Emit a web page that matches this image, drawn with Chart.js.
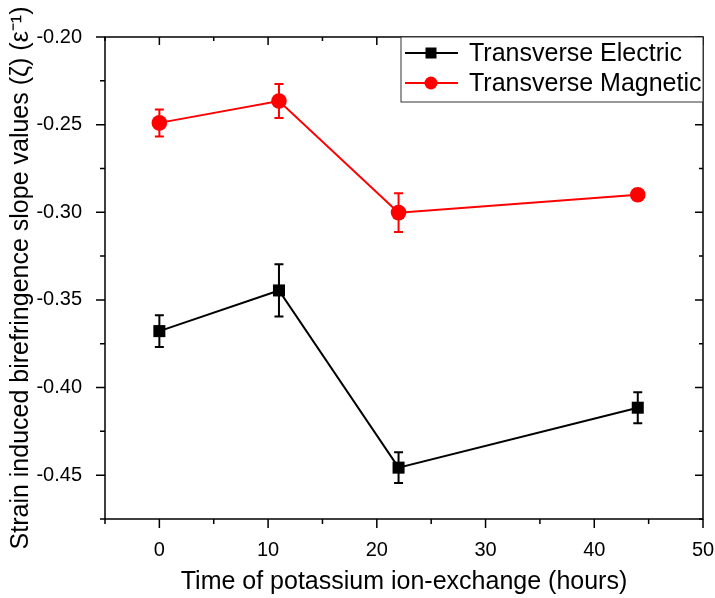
<!DOCTYPE html>
<html>
<head>
<meta charset="utf-8">
<script src="https://cdn.jsdelivr.net/npm/chart.js@4/dist/chart.umd.min.js"></script>
<style>
    body { margin: 0; background: #ffffff; }
    canvas { display: block; }
</style>
</head>
<body>
<canvas id="chart" width="715" height="598"></canvas>
<script>
// data
const hours = [0, 11, 22, 44];
const teValues = [-0.3678, -0.3446, -0.4457, -0.4115];
const teErrors = [0.009, 0.0149, 0.0088, 0.0088];
const tmValues = [-0.249, -0.2365, -0.3002, -0.290];
const tmErrors = [0.0077, 0.0097, 0.011, 0.003];

const xMajor = [0, 10, 20, 30, 40, 50];
const xMinor = [-5, 5, 15, 25, 35, 45];
const yMajor = [-0.45, -0.40, -0.35, -0.30, -0.25, -0.20];
const yMinor = [-0.475, -0.425, -0.375, -0.325, -0.275, -0.225];

const FONT = "'Liberation Sans', Arial, sans-serif";

function points(values) {
    return hours.map((h, i) => ({ x: h, y: values[i] }));
}

// error bars, frame with mirrored ticks, and the boxed legend
const originPlot = {
    id: 'originPlot',
    beforeDatasetsDraw(chart) {
        const ctx = chart.ctx;
        const xs = chart.scales.x, ys = chart.scales.y;
        chart.data.datasets.forEach(ds => {
            ctx.save();
            ctx.strokeStyle = ds.borderColor;
            ctx.lineWidth = 2;
            ds.data.forEach((p, i) => {
                const e = ds.errors[i];
                const px = xs.getPixelForValue(p.x);
                const y1 = ys.getPixelForValue(p.y + e);
                const y2 = ys.getPixelForValue(p.y - e);
                ctx.beginPath();
                ctx.moveTo(px, y1); ctx.lineTo(px, y2);
                ctx.moveTo(px - 4.5, y1); ctx.lineTo(px + 4.5, y1);
                ctx.moveTo(px - 4.5, y2); ctx.lineTo(px + 4.5, y2);
                ctx.stroke();
            });
            ctx.restore();
        });
    },
    afterDraw(chart) {
        const ctx = chart.ctx;
        const { left, right, top, bottom } = chart.chartArea;
        const xs = chart.scales.x, ys = chart.scales.y;
        ctx.save();
        ctx.strokeStyle = '#000';
        ctx.lineWidth = 1.5;
        ctx.strokeRect(left, top, right - left, bottom - top);

        ctx.beginPath();
        const xTick = (v, out, inn) => {
            const px = xs.getPixelForValue(v);
            ctx.moveTo(px, bottom); ctx.lineTo(px, bottom + out);
            ctx.moveTo(px, top); ctx.lineTo(px, top + inn);
        };
        const yTick = (v, out, inn) => {
            const py = ys.getPixelForValue(v);
            ctx.moveTo(left, py); ctx.lineTo(left - out, py);
            ctx.moveTo(right, py); ctx.lineTo(right - inn, py);
        };
        xMajor.forEach(v => xTick(v, 9, 8));
        xMinor.forEach(v => xTick(v, 5, 4));
        yMajor.forEach(v => yTick(v, 9, 8));
        yMinor.forEach(v => yTick(v, 5, 4));
        ctx.stroke();

        // legend
        const bx = 401, by = top, bw = right - bx, bh = 65;
        ctx.fillStyle = '#fff';
        ctx.fillRect(bx, by, bw, bh);
        ctx.lineWidth = 1;
        ctx.strokeStyle = '#333';
        ctx.strokeRect(bx, by, bw, bh);
        chart.data.datasets.forEach((ds, i) => {
            const cy = by + 16 + i * 30;
            ctx.strokeStyle = ds.borderColor;
            ctx.fillStyle = ds.borderColor;
            ctx.lineWidth = 2;
            ctx.beginPath();
            ctx.moveTo(405, cy); ctx.lineTo(458, cy);
            ctx.stroke();
            if (ds.pointStyle === 'rect') {
                ctx.fillRect(431 - 5.5, cy - 5.5, 11, 11);
            } else {
                ctx.beginPath();
                ctx.arc(431, cy, 6.5, 0, Math.PI * 2);
                ctx.fill();
            }
            ctx.fillStyle = '#000';
            ctx.font = '25px ' + FONT;
            ctx.textBaseline = 'middle';
            ctx.fillText(ds.label, 469, cy + 1);
        });
        ctx.restore();
    }
};

function initChart() {
    const ctx = document.getElementById('chart');
    Chart.defaults.font.family = FONT;
    Chart.defaults.color = '#000';

    new Chart(ctx, {
        type: 'line',
        data: {
            datasets: [
                {
                    label: 'Transverse Electric',
                    data: points(teValues),
                    errors: teErrors,
                    borderColor: '#000000',
                    backgroundColor: '#000000',
                    borderWidth: 2,
                    pointStyle: 'rect',
                    pointRadius: 8.5,
                    pointBorderWidth: 0,
                    tension: 0
                },
                {
                    label: 'Transverse Magnetic',
                    data: points(tmValues),
                    errors: tmErrors,
                    borderColor: '#ff0000',
                    backgroundColor: '#ff0000',
                    borderWidth: 2,
                    pointStyle: 'circle',
                    pointRadius: 7.8,
                    pointBorderWidth: 0,
                    tension: 0
                }
            ]
        },
        options: {
            responsive: false,
            animation: false,
            layout: { padding: { top: 37, right: 12, left: 0, bottom: 0 } },
            plugins: {
                legend: { display: false },
                tooltip: { enabled: false }
            },
            scales: {
                x: {
                    type: 'linear',
                    min: -5,
                    max: 50,
                    afterBuildTicks: s => { s.ticks = xMajor.map(v => ({ value: v })); },
                    afterFit: s => { s.height = 79; s.paddingRight = 0; s.paddingLeft = 0; },
                    grid: { display: false },
                    border: { display: false },
                    ticks: { font: { size: 20 }, padding: 11, maxRotation: 0 },
                    title: {
                        display: true,
                        text: 'Time of potassium ion-exchange (hours)',
                        font: { size: 25 },
                        padding: { top: 0, bottom: 1 }
                    }
                },
                y: {
                    type: 'linear',
                    min: -0.475,
                    max: -0.20,
                    afterBuildTicks: s => { s.ticks = yMajor.map(v => ({ value: v })); },
                    afterFit: s => { s.width = 105; s.paddingTop = 0; s.paddingBottom = 0; },
                    grid: { display: false },
                    border: { display: false },
                    ticks: {
                        font: { size: 20 },
                        padding: 15,
                        callback: v => v.toFixed(2)
                    },
                    title: {
                        display: true,
                        text: 'Strain induced birefringence slope values (\u03B6) (\u03B5\u207B\u00B9)',
                        font: { size: 25 },
                        padding: { top: 6, bottom: 0 }
                    }
                }
            }
        },
        plugins: [originPlot]
    });
}

document.addEventListener('DOMContentLoaded', () => {
    initChart();
});
</script>
</body>
</html>
